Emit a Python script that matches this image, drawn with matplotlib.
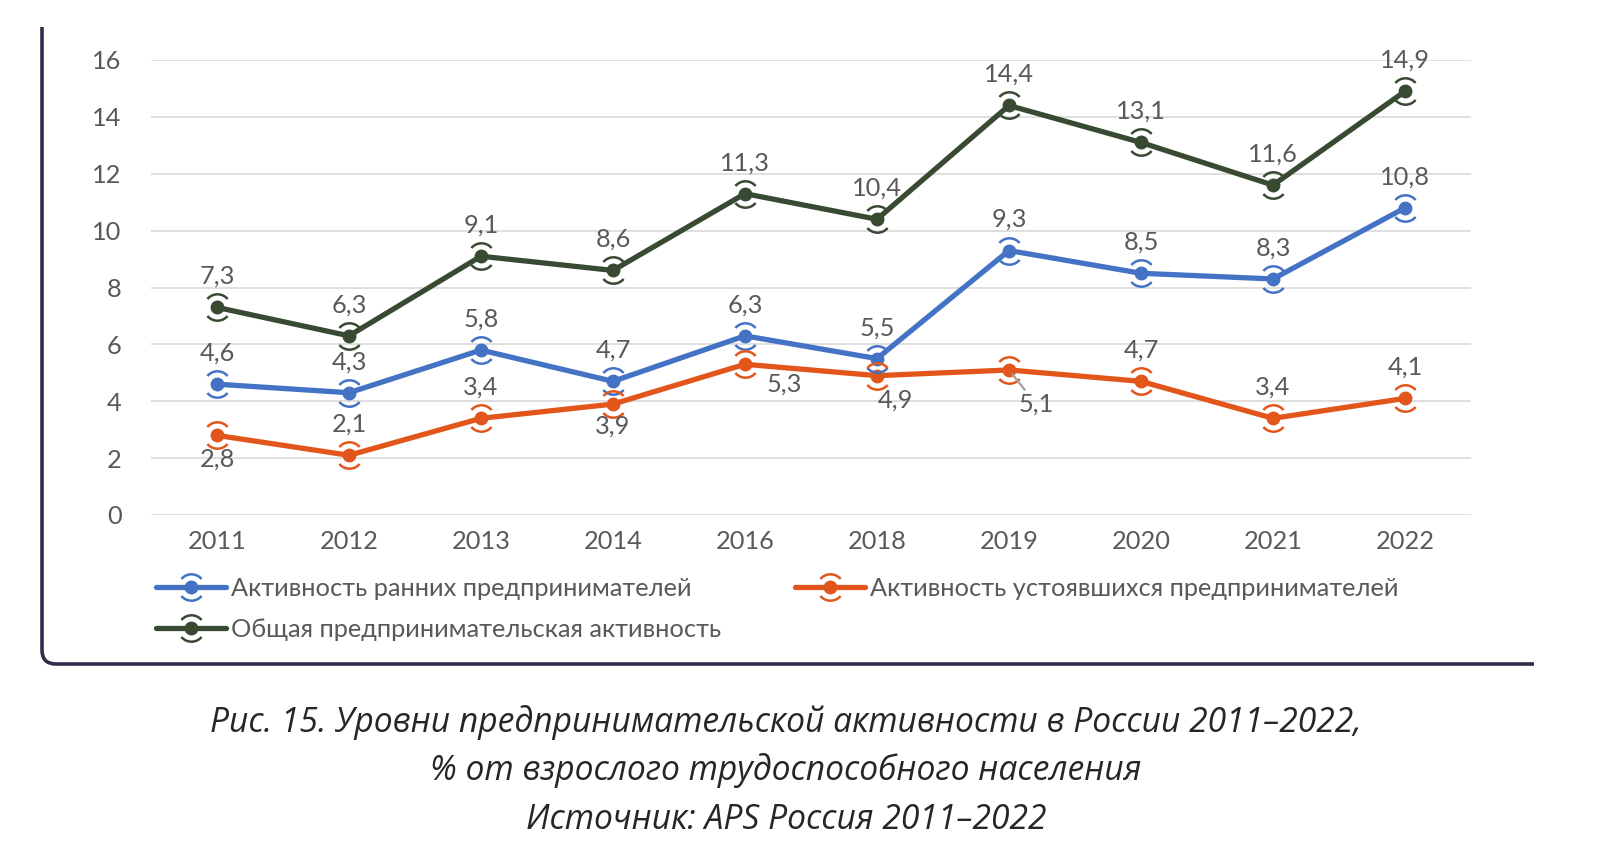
import matplotlib
matplotlib.use("Agg")
import matplotlib.pyplot as plt
from matplotlib.path import Path
from matplotlib.patches import PathPatch
from matplotlib.legend_handler import HandlerTuple

plt.rcParams['font.family'] = ['Lato', 'DejaVu Sans']

years = ['2011', '2012', '2013', '2014', '2016', '2018', '2019', '2020', '2021', '2022']
early = [4.6, 4.3, 5.8, 4.7, 6.3, 5.5, 9.3, 8.5, 8.3, 10.8]
established = [2.8, 2.1, 3.4, 3.9, 5.3, 4.9, 5.1, 4.7, 3.4, 4.1]
total = [7.3, 6.3, 9.1, 8.6, 11.3, 10.4, 14.4, 13.1, 11.6, 14.9]

names = ['Активность ранних предпринимателей',
         'Активность устоявшихся предпринимателей',
         'Общая предпринимательская активность']
colors = ['#4472C4', '#E2561C', '#384A32']
caption = ['Рис. 15. Уровни предпринимательской активности в России 2011–2022,',
           '% от взрослого трудоспособного населения',
           'Источник: APS Россия 2011–2022']

TXT = '#595959'
W, H = 1598, 860
fig = plt.figure(figsize=(W / 100, H / 100), dpi=100)
ax = fig.add_axes([151 / W, 1 - 515 / H, (1471 - 151) / W, (515 - 60) / H])
x = list(range(len(years)))

arc_path = Path.make_compound_path(Path.arc(40, 140), Path.arc(220, 320))

def draw(vals, color):
    ln, = ax.plot(x, vals, color=color, lw=3.8, marker='o', ms=9,
                  solid_capstyle='round', zorder=3)
    ar, = ax.plot(x, vals, ls='none', marker=arc_path, ms=19, mew=1.8,
                  mec=color, mfc='none', zorder=4)
    return (ln, ar)

h_early = draw(early, colors[0])
h_est = draw(established, colors[1])
h_tot = draw(total, colors[2])

px = 0.72
def lab(xi, v, dx, dy, line=False):
    kw = {}
    if line:
        kw['arrowprops'] = dict(arrowstyle='-', color='#A0A0A0', lw=1.6,
                                shrinkA=0, shrinkB=4)
    ax.annotate(f'{v:.1f}'.replace('.', ','), (xi, v), xytext=(dx * px, dy * px),
                textcoords='offset points', ha='center', va='center',
                fontsize=18.3, color=TXT, annotation_clip=False, zorder=5, **kw)

for i, v in enumerate(total):
    lab(i, v, 0, 31)
for i, v in enumerate(early):
    lab(i, v, 0, 31)
est_off = [(0, -24), (0, 31), (0, 31), (0, -22), (39, -20), (18, -24), (27, -34),
           (0, 31), (0, 31), (0, 31)]
for i, v in enumerate(established):
    dx, dy = est_off[i]
    lab(i, v, dx, dy, line=(i == 6))

ax.set_xlim(-0.5, len(years) - 0.5)
ax.set_ylim(0, 16)
ax.set_yticks(range(0, 17, 2))
ax.set_xticks(x)
ax.set_xticklabels(years)
ax.tick_params(axis='both', length=0, labelsize=18.3, labelcolor=TXT)
ax.tick_params(axis='y', pad=21)
ax.tick_params(axis='x', pad=11)
ax.grid(axis='y', color='#D9D9D9', lw=1.2)
ax.set_axisbelow(True)
for s in ax.spines.values():
    s.set_visible(False)

leg = ax.legend([h_early, h_tot, h_est], [names[0], names[2], names[1]],
                handler_map={tuple: HandlerTuple(ndivide=1, pad=0)},
                ncol=2, loc='upper left', bbox_to_anchor=(156 / W, 1 - 577 / H),
                bbox_transform=fig.transFigure, frameon=False, fontsize=18.3,
                labelcolor=TXT, handlelength=2.75, handletextpad=0.2,
                columnspacing=2.9, labelspacing=0.72, borderpad=0, borderaxespad=0,
                numpoints=1)

# frame (left and bottom with rounded corner)
L, T, B, R, rad = 42, 27, 664, 1534, 14
verts = [(L, T), (L, B - rad), (L, B), (L + rad, B), (R, B)]
verts = [(a / W, 1 - b / H) for a, b in verts]
codes = [Path.MOVETO, Path.LINETO, Path.CURVE3, Path.CURVE3, Path.LINETO]
fig.patches.append(PathPatch(Path(verts, codes), transform=fig.transFigure,
                             fill=False, ec='#2E2E4A', lw=2.6, capstyle='butt'))

caps = []
for t, yy in zip(caption, [722, 771, 820]):
    caps.append(fig.text(786 / W, 1 - yy / H, t, ha='center', va='center',
                         fontsize=24, style='italic', color='#262626',
                         family=['Open Sans', 'DejaVu Sans']))
# scale caption font so first line spans the reference width
r = fig.canvas.get_renderer()
w0 = caps[0].get_window_extent(r).width
fs = 24 * 1155 / w0
for c in caps:
    c.set_fontsize(fs)

fig.savefig('out.png', dpi=100)
